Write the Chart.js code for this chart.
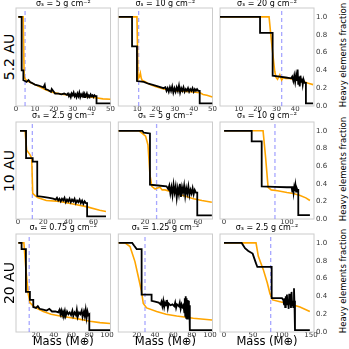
<!DOCTYPE html>
<html>
<head>
<meta charset="utf-8">
<script src="https://cdn.jsdelivr.net/npm/chart.js@4.4.1/dist/chart.umd.min.js"></script>
<style>
  html, body { margin: 0; padding: 0; background: #fff; }
  #fig { position: relative; width: 349px; height: 349px; overflow: hidden; font-family: "DejaVu Sans", sans-serif; }
  #fig canvas { position: absolute; }
  .vlabel { position: absolute; white-space: nowrap; transform: translate(-50%, -50%) rotate(-90deg); color: #000; }
  .row { font-size: 14px; }
  .frac { font-size: 8.5px; }
</style>
</head>
<body>
<div id="fig"></div>
<script>
// row / column annotations
const rowLabels = ["5.2 AU", "10 AU", "20 AU"];
const sigmaValues = [["5", "10", "20"], ["2.5", "5", "10"], ["0.75", "1.25", "2.5"]];
const fracTicks = [0, 0.2, 0.4, 0.6, 0.8, 1.0];

// x range and ticks for each panel (row by row)
const massRanges = [[0, 50], [0, 50], [0, 50], [-1.6, 73.6], [-0.1, 71], [-6.5, 143], [-2.6, 104], [-0.2, 102.8], [-6.9, 155.2]];
const massTicks = [
  [0, 10, 20, 30, 40, 50], [10, 20, 30, 40, 50], [10, 20, 30, 40],
  [0, 20, 40, 60], [20, 40, 60], [0, 100],
  [20, 40, 60, 80, 100], [20, 40, 60, 80, 100], [0, 50, 100, 150]
];
// dashed vertical marker per panel
const isoMass = [4.8, 10.8, 32.8, 11.4, 28.8, 80.9, 12.3, 29, 80.5];

// [mass, heavy element fraction]
const black11 = [[1.2,1.0],[3.0,1.0],[3.0,0.40],[3.9,0.40],[3.9,0.29],[4.8,0.28],[5.6,0.27],[6.6,0.29],[7.4,0.27],[8.3,0.26],[10,0.24],[12,0.23],[14.5,0.21],[15.2,0.24],[15.6,0.19],[17,0.18],[18.5,0.16],[18.9,0.19],[20.7,0.14],[22.5,0.14],[24,0.13],[25.5,0.14],[26.9,0.125],[27.5,0.14],[28,0.11],[28.5,0.13],[29,0.10],[29.5,0.14],[30,0.12],[30.5,0.15],[31,0.11],[31.5,0.13],[32,0.10],[32.5,0.14],[33,0.11],[33.5,0.15],[34,0.10],[34.5,0.13],[35,0.11],[35.5,0.14],[36,0.10],[36.5,0.13],[37,0.11],[37.5,0.14],[38,0.10],[38.5,0.12],[39,0.10],[39.5,0.13],[40,0.11],[40.5,0.12],[41,0.10],[41.5,0.12],[42,0.11],[42.6,0.11],[42.6,0.03],[50,0.03]];
const orange11 = [[1.2,1.0],[3.8,1.0],[4.3,0.33],[5,0.30],[6,0.28],[8,0.26],[10,0.24],[13,0.21],[16,0.18],[20,0.15],[25,0.13],[30,0.12],[35,0.11],[40,0.10],[43,0.09],[46,0.08],[50,0.075]];

const black12 = [[0.2,1.0],[7.3,1.0],[7.3,0.67],[9.9,0.67],[9.9,0.28],[13.5,0.27],[16,0.25],[18.8,0.235],[21,0.22],[24,0.2],[25,0.21],[25.6,0.17],[26.2,0.2],[26.8,0.16],[27.4,0.21],[28,0.17],[28.6,0.22],[29.2,0.15],[29.8,0.20],[30.4,0.16],[31,0.21],[31.6,0.17],[32.2,0.23],[32.8,0.15],[33.4,0.2],[34,0.17],[34.6,0.21],[35.2,0.16],[35.8,0.19],[36.4,0.17],[37,0.20],[37.6,0.16],[38.2,0.19],[38.8,0.17],[39.4,0.2],[40,0.16],[40.6,0.19],[41.2,0.17],[41.8,0.19],[42.4,0.17],[43.2,0.17],[43.2,0.03],[50,0.03]];
const orange12 = [[0.2,1.0],[9.9,1.0],[10.5,0.30],[11.2,0.33],[11.7,0.37],[12.2,0.31],[12.6,0.29],[14.5,0.27],[16.9,0.24],[20,0.215],[24,0.19],[27,0.18],[31,0.17],[34,0.165],[38,0.16],[41,0.155],[43.2,0.15],[45,0.13],[47,0.12],[50,0.10]];

const black13 = [[0,1.0],[21.3,1.0],[21.3,0.82],[28.0,0.82],[28.0,0.34],[31.6,0.33],[35,0.32],[37.8,0.31],[38.4,0.33],[39,0.28],[39.5,0.34],[40,0.27],[40.5,0.35],[41,0.29],[41.3,0.41],[41.6,0.25],[42,0.33],[42.4,0.22],[42.8,0.34],[43.2,0.27],[43.6,0.31],[44,0.24],[44.4,0.3],[45,0.26],[45.7,0.26],[45.7,0.03],[49.5,0.03]];
const orange13 = [[0,1.0],[26.1,1.0],[27.3,0.74],[29.1,0.39],[29.8,0.32],[30.6,0.30],[31.8,0.35],[32.8,0.29],[33.6,0.32],[35,0.31],[37,0.31],[39,0.30],[41,0.29],[43,0.28],[45,0.27],[47,0.255],[49.5,0.24]];

const black21 = [[1.6,1.0],[6.4,1.0],[6.4,0.69],[11.7,0.69],[11.7,0.65],[15.3,0.65],[15.3,0.26],[20,0.25],[25,0.24],[28,0.23],[30,0.22],[31,0.24],[32,0.21],[33,0.23],[34,0.20],[35,0.23],[36,0.21],[37,0.24],[38,0.19],[39,0.22],[40,0.20],[41,0.23],[42,0.19],[43,0.22],[44,0.20],[45,0.23],[46,0.18],[47,0.21],[48,0.19],[49,0.22],[50,0.18],[51,0.21],[52,0.17],[53,0.2],[54,0.18],[55,0.18],[55,0.03],[70,0.03]];
const orange21 = [[1.6,1.0],[5.6,1.0],[6.9,0.78],[9.5,0.73],[10.9,0.69],[11.7,0.29],[14,0.26],[16,0.24],[22.5,0.21],[33,0.20],[43.7,0.17],[54.3,0.14],[65,0.10],[70,0.085]];

const black22 = [[0,1.0],[18,1.0],[19,0.98],[23.8,0.97],[23.8,0.39],[30,0.38],[36.3,0.37],[37.6,0.34],[38.4,0.38],[39.2,0.29],[40,0.36],[40.8,0.27],[41.6,0.39],[42.4,0.30],[43.2,0.37],[44,0.24],[44.8,0.35],[45.6,0.28],[46.4,0.40],[47.2,0.25],[48,0.36],[48.8,0.30],[49.6,0.38],[50.4,0.26],[51.2,0.35],[52,0.29],[52.8,0.37],[53.6,0.27],[54.4,0.33],[55.2,0.29],[56,0.35],[56.8,0.28],[57.6,0.33],[58.5,0.30],[59.5,0.30],[59.5,0.04],[70.5,0.04]];
const orange22 = [[0,1.0],[15.6,1.0],[18,0.97],[20.5,0.94],[22.3,0.84],[23.8,0.50],[25.2,0.37],[27.7,0.34],[29,0.35],[31.4,0.36],[33,0.33],[35.2,0.33],[40,0.31],[44,0.29],[50,0.26],[56.6,0.23],[63,0.21],[70.5,0.19]];

const black23 = [[0,1.0],[43.9,1.0],[43.9,0.88],[59.8,0.88],[59.8,0.37],[80,0.365],[100,0.36],[107.5,0.36],[108.5,0.31],[109.5,0.37],[110.5,0.30],[111.5,0.36],[112.5,0.32],[113.5,0.38],[114.5,0.31],[115.5,0.35],[116.5,0.33],[118,0.33],[118,0.045],[136.5,0.045]];
const orange23 = [[0,1.0],[62,1.0],[66,0.70],[70,0.36],[75,0.33],[85,0.32],[100,0.30],[110,0.29],[120,0.27],[130,0.24],[136.5,0.21]];

const black31 = [[0,1.0],[3.7,1.0],[3.7,0.93],[8.6,0.93],[8.6,0.45],[13.1,0.45],[13.1,0.36],[16.9,0.36],[16.9,0.28],[20,0.27],[22,0.29],[24,0.26],[28,0.25],[32,0.24],[35,0.26],[38,0.23],[42,0.23],[45,0.22],[46.5,0.25],[47.5,0.20],[48.5,0.24],[49.5,0.19],[50.5,0.23],[51.5,0.20],[52.5,0.24],[53.5,0.18],[55,0.23],[56.5,0.20],[58,0.22],[59.5,0.19],[61,0.24],[62,0.18],[63.5,0.22],[65,0.19],[66,0.25],[67,0.17],[68.5,0.22],[70,0.20],[71.5,0.24],[72.5,0.17],[74,0.23],[75,0.18],[76,0.25],[77,0.16],[78,0.23],[79,0.19],[80.1,0.2],[80.1,0.02],[103.5,0.02]];
const orange31 = [[0,1.0],[6.3,1.0],[8.6,0.70],[11.2,0.43],[13.1,0.33],[16.9,0.29],[22,0.26],[28.2,0.23],[37,0.20],[47,0.18],[56,0.165],[65.8,0.15],[80.9,0.12],[92,0.105],[103.5,0.095]];

const black32 = [[0,1.0],[15,1.0],[17,0.97],[19.9,0.93],[25.3,0.93],[25.3,0.42],[36.2,0.42],[36.2,0.35],[40,0.34],[44,0.33],[46,0.31],[47,0.34],[48,0.29],[49,0.35],[50,0.28],[51,0.33],[52,0.30],[53,0.36],[54,0.27],[55,0.32],[57,0.30],[59,0.31],[61,0.29],[62,0.33],[63,0.27],[64,0.31],[66,0.29],[67,0.33],[68,0.26],[69,0.31],[70,0.28],[71,0.30],[72,0.22],[72.5,0.38],[73,0.18],[73.5,0.40],[74,0.16],[74.5,0.38],[75,0.15],[75.5,0.36],[76,0.17],[76.5,0.35],[77,0.20],[77.5,0.30],[78,0.25],[78,0.02],[102.3,0.02]];
const orange32 = [[0,1.0],[7.1,1.0],[12.6,0.96],[18,0.79],[21.7,0.62],[25.3,0.45],[27.1,0.32],[30.8,0.27],[41.7,0.23],[52,0.20],[63.6,0.18],[81.8,0.155],[102.3,0.135]];

const black33 = [[0,1.0],[30.5,1.0],[36.2,0.94],[41.9,0.91],[49.4,0.88],[55.2,0.77],[57.5,0.73],[82.2,0.73],[82.2,0.38],[100,0.38],[102.3,0.36],[103.5,0.31],[104.5,0.38],[105.5,0.28],[106.5,0.40],[107.5,0.33],[108.5,0.42],[109.5,0.30],[110.5,0.36],[111.5,0.26],[112.5,0.43],[113.5,0.31],[114.5,0.37],[115.5,0.27],[116.5,0.45],[117.5,0.30],[118.5,0.35],[119.5,0.28],[120.7,0.49],[121.5,0.33],[122.4,0.35],[122.4,0.02],[148,0.02]];
const orange33 = [[0,1.0],[55.2,1.0],[59.2,0.85],[67.8,0.70],[74.7,0.55],[79.3,0.43],[83.9,0.36],[96.6,0.34],[113.8,0.315],[131,0.28],[148,0.23]];

const blackSeries = [black11, black12, black13, black21, black22, black23, black31, black32, black33];
const orangeSeries = [orange11, orange12, orange13, orange21, orange22, orange23, orange31, orange32, orange33];

// panel frame positions in the 349x349 figure
const boxLeft = [16, 118.3, 220];
const boxRight = [110.5, 212.5, 314];
const boxTop = [8, 122, 234];
const boxBottom = [106, 219, 332];
// gap between title and frame per row
const titleGap = [-0.8, 1.2, 1.2];

Chart.defaults.font.family = '"DejaVu Sans", sans-serif';
Chart.defaults.color = '#333';

const fig = document.getElementById('fig');

const framePlugin = {
  id: 'frame',
  beforeDatasetsDraw(chart) {
    const { ctx, chartArea: a } = chart;
    ctx.save();
    ctx.strokeStyle = '#cccccc';
    ctx.lineWidth = 1;
    ctx.strokeRect(a.left, a.top, a.right - a.left, a.bottom - a.top);
    ctx.restore();
  }
};

const toPoints = pairs => pairs.map(([x, y]) => ({ x, y }));

function addLabel(text, cls, x, y) {
  const d = document.createElement('div');
  d.className = 'vlabel ' + cls;
  d.textContent = text;
  d.style.left = x + 'px';
  d.style.top = y + 'px';
  fig.appendChild(d);
}

for (let r = 0; r < 3; r++) {
  const midY = (boxTop[r] + boxBottom[r]) / 2;
  addLabel(rowLabels[r], 'row', 8.5, midY);
  addLabel('Heavy elements fraction', 'frac', 343, midY - 2);

  for (let c = 0; c < 3; c++) {
    const i = r * 3 + c;
    const cl = Math.floor(boxLeft[c]) - 8;
    const ct = Math.floor(boxTop[r]) - 12;
    const cw = Math.ceil(boxRight[c]) + (c === 2 ? 16 : 8) - cl;
    const ch = (r === 2 ? 349 : Math.ceil(boxBottom[r]) + 11) - ct;
    const xAxisH = r === 2 ? 349 - boxBottom[r] : 11;
    const yAxisW = c === 2 ? 14 : 0;
    const titleH = 9.6 + titleGap[r];

    const canvas = document.createElement('canvas');
    canvas.width = cw;
    canvas.height = ch;
    canvas.style.left = cl + 'px';
    canvas.style.top = ct + 'px';
    canvas.style.width = cw + 'px';
    canvas.style.height = ch + 'px';
    fig.appendChild(canvas);

    new Chart(canvas, {
      type: 'line',
      data: {
        datasets: [
          {
            data: toPoints(blackSeries[i]),
            borderColor: '#000000',
            borderWidth: 1.8,
            pointRadius: 0,
            tension: 0,
            fill: false
          },
          {
            data: toPoints(orangeSeries[i]),
            borderColor: '#ffa500',
            borderWidth: 1.6,
            pointRadius: 0,
            tension: 0,
            fill: false
          },
          {
            data: [{ x: isoMass[i], y: 0 }, { x: isoMass[i], y: 1.1 }],
            borderColor: 'rgba(130,130,255,0.7)',
            borderWidth: 1.3,
            borderDash: [4, 3],
            pointRadius: 0,
            fill: false
          }
        ]
      },
      options: {
        responsive: false,
        animation: false,
        devicePixelRatio: 1,
        parsing: false,
        layout: {
          padding: {
            left: boxLeft[c] - cl,
            top: boxTop[r] - ct - titleH,
            right: cl + cw - boxRight[c] - yAxisW,
            bottom: ct + ch - boxBottom[r] - xAxisH
          }
        },
        plugins: {
          legend: { display: false },
          tooltip: { enabled: false },
          title: {
            display: true,
            text: 'σₛ = ' + sigmaValues[r][c] + ' g cm⁻²',
            fullSize: false,
            color: '#000',
            font: { size: 8, weight: 'normal' },
            padding: { top: 0, bottom: titleGap[r] }
          }
        },
        scales: {
          x: {
            type: 'linear',
            min: massRanges[i][0],
            max: massRanges[i][1],
            grid: { display: false, drawTicks: false },
            border: { display: false },
            ticks: { font: { size: 7 }, padding: -1.5, maxRotation: 0, autoSkip: false, callback: v => String(v) },
            afterBuildTicks: s => { s.ticks = massTicks[i].map(v => ({ value: v })); },
            afterFit: s => { s.height = xAxisH; },
            title: {
              display: r === 2,
              text: 'Mass (M⊕)',
              color: '#000',
              font: { size: 11.5 },
              padding: 0
            }
          },
          y: {
            type: 'linear',
            position: 'right',
            display: c === 2,
            min: 0,
            max: 1.1,
            grid: { display: false, drawTicks: false },
            border: { display: false },
            ticks: { font: { size: 7 }, padding: 2, callback: v => v.toFixed(1) },
            afterBuildTicks: s => { s.ticks = fracTicks.map(v => ({ value: v })); },
            afterFit: s => { s.width = yAxisW; }
          }
        }
      },
      plugins: [framePlugin]
    });
  }
}
</script>
</body>
</html>
